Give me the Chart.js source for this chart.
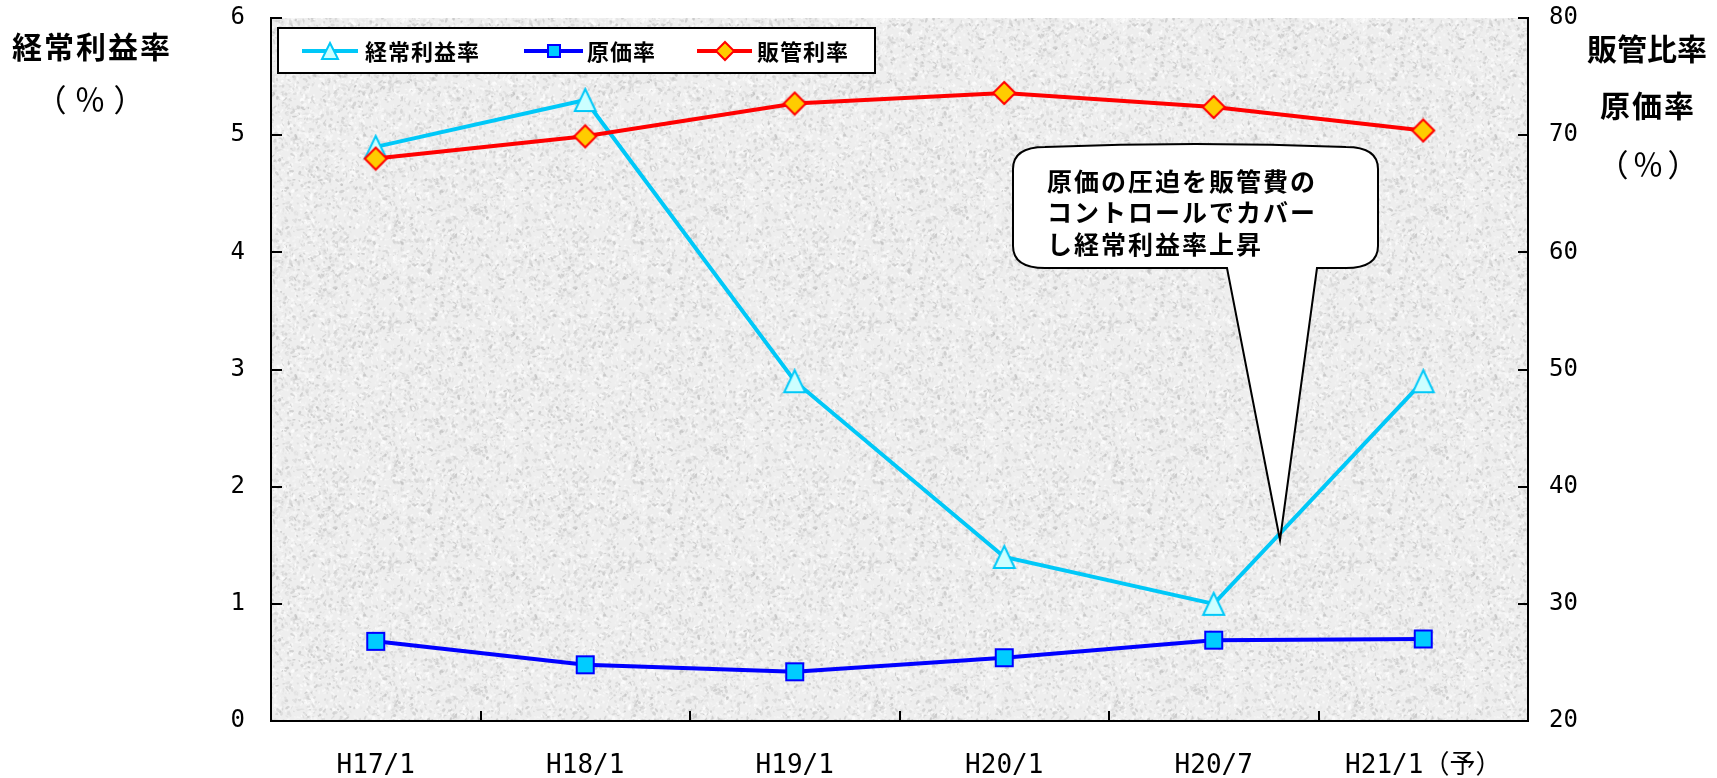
<!DOCTYPE html>
<html>
<head>
<meta charset="utf-8">
<script src="https://cdn.jsdelivr.net/npm/chart.js@4.4.1/dist/chart.umd.min.js"></script>
<style>
  html, body { margin: 0; padding: 0; background: #ffffff; }
  #wrap { width: 1717px; height: 778px; position: relative; }
</style>
</head>
<body>
<div id="wrap"><canvas id="c" width="1717" height="778"></canvas></div>
<script>
// ---- data ----
const categories = ['H17/1', 'H18/1', 'H19/1', 'H20/1', 'H20/7', 'H21/1（予）'];
const keijoRiekiRitsu = [4.9, 5.3, 2.9, 1.4, 1.0, 2.9];      // 経常利益率 (left axis, %)
const genkaRitsu      = [26.8, 24.8, 24.2, 25.4, 26.9, 27.0]; // 原価率 (right axis, %)
const hankanRitsu     = [68.0, 69.9, 72.7, 73.6, 72.4, 70.4]; // 販管利率 (right axis, %)
const seriesNames = ['経常利益率', '原価率', '販管利率'];
const leftAxisRange = [0, 6, 1];
const rightAxisRange = [20, 80, 10];
const leftTitle = ['経常利益率', '（％）'];
const rightTitle = ['販管比率', '原価率', '（％）'];
const calloutLines = ['原価の圧迫を販管費の', 'コントロールでカバー', 'し経常利益率上昇'];

// ---- styling ----
const JP = '"Noto Sans CJK JP", "Noto Sans", sans-serif';
const MONO = '"DejaVu Sans Mono", "Noto Sans CJK JP", monospace';
const CYAN = '#00c8f8', BLUE = '#0000ff', RED = '#ff0000';

function marker(shape, w, h, fill, stroke, lw) {
  const c = document.createElement('canvas');
  c.width = w + 2; c.height = h + 2;
  const g = c.getContext('2d');
  const cx = c.width / 2, cy = c.height / 2, hw = w / 2 - lw / 2, hh = h / 2 - lw / 2;
  g.beginPath();
  if (shape === 'triangle') {
    g.moveTo(cx, cy - hh); g.lineTo(cx + hw, cy + hh); g.lineTo(cx - hw, cy + hh);
  } else if (shape === 'diamond') {
    g.moveTo(cx, cy - hh); g.lineTo(cx + hw, cy); g.lineTo(cx, cy + hh); g.lineTo(cx - hw, cy);
  } else {
    g.rect(cx - hw, cy - hh, hw * 2, hh * 2);
  }
  g.closePath();
  g.fillStyle = fill; g.fill();
  g.lineWidth = lw; g.strokeStyle = stroke; g.lineJoin = 'miter'; g.stroke();
  return c;
}

const mkTri = marker('triangle', 23, 24, '#ccffff', CYAN, 2);
const mkSq = marker('square', 19, 19, '#00ccff', BLUE, 2);
const mkDia = marker('diamond', 24, 24, '#ffcc00', RED, 2);
const lgTri = marker('triangle', 18, 18, '#ccffff', CYAN, 2);
const lgSq = marker('square', 14, 14, '#00ccff', BLUE, 2);
const lgDia = marker('diamond', 20, 20, '#ffcc00', RED, 2);

// granite-like background tile for the plot area
function makeTexture() {
  const N = 240;
  const c = document.createElement('canvas'); c.width = c.height = N;
  const g = c.getContext('2d');
  g.fillStyle = '#eeeeee'; g.fillRect(0, 0, N, N);
  const s = document.createElement('canvas'); s.width = s.height = N;
  const h = s.getContext('2d');
  let seed = 12345;
  const next = () => { seed = (seed * 16807) % 2147483647; return (seed - 1) / 2147483646; };
  for (let k = 0; k < 6000; k++) {
    const x = next() * N, y = next() * N;
    const rx = 0.6 + next() * 2.2, ry = 0.5 + next() * 1.1, ang = next() * Math.PI;
    const dark = next() < 0.55;
    const v = dark ? Math.round(188 + next() * 40) : Math.round(248 + next() * 7);
    h.fillStyle = `rgba(${v},${v},${v},${(0.3 + next() * 0.5).toFixed(2)})`;
    for (let ox = -N; ox <= N; ox += N) for (let oy = -N; oy <= N; oy += N) {
      h.beginPath(); h.ellipse(x + ox, y + oy, rx, ry, ang, 0, Math.PI * 2); h.fill();
    }
  }
  g.filter = 'blur(0.6px)';
  g.drawImage(s, 0, 0);
  g.filter = 'none';
  return c;
}
const textureTile = makeTexture();

function spaced(g, text, x, y, spacing) {
  g.letterSpacing = spacing + 'px';
  g.fillText(text, x, y);
  g.letterSpacing = '0px';
}

// full-width "（％）" drawn glyph by glyph with wide gaps
function percentMark(g, text, cx, cy, gap) {
  g.font = `31px ${JP}`;
  g.textAlign = 'center'; g.textBaseline = 'middle';
  Array.from(text).forEach((ch, i) => g.fillText(ch, cx + (i - 1) * gap, cy));
}

const decorations = {
  id: 'decorations',
  beforeDraw(chart) {
    const g = chart.ctx, a = chart.chartArea;
    g.save();
    g.fillStyle = '#ffffff';
    g.fillRect(0, 0, chart.width, chart.height);
    g.fillStyle = g.createPattern(textureTile, 'repeat');
    g.fillRect(a.left, a.top, a.right - a.left, a.bottom - a.top);
    g.restore();
  },
  beforeDatasetsDraw(chart) {
    const g = chart.ctx, a = chart.chartArea;
    const xs = chart.scales.x, yl = chart.scales.y, yr = chart.scales.y1;
    g.save();
    g.strokeStyle = '#000'; g.lineWidth = 2;
    g.beginPath();
    yl.ticks.forEach((t, i) => { const p = Math.round(yl.getPixelForTick(i)); g.moveTo(a.left, p); g.lineTo(a.left + 11, p); });
    yr.ticks.forEach((t, i) => { const p = Math.round(yr.getPixelForTick(i)); g.moveTo(a.right, p); g.lineTo(a.right - 10, p); });
    for (let i = 0; i < xs.ticks.length - 1; i++) {
      const p = Math.round((xs.getPixelForTick(i) + xs.getPixelForTick(i + 1)) / 2);
      g.moveTo(p, a.bottom); g.lineTo(p, a.bottom - 10);
    }
    g.stroke();
    g.restore();
  },
  afterDraw(chart) {
    const g = chart.ctx;
    g.save();
    // axis titles
    g.fillStyle = '#000'; g.textAlign = 'center'; g.textBaseline = 'middle';
    g.font = `bold 30px ${JP}`;
    spaced(g, leftTitle[0], 92, 47, 2);
    percentMark(g, leftTitle[1], 90, 99, 39);
    g.textAlign = 'center';
    g.font = `bold 30px ${JP}`;
    spaced(g, rightTitle[0], 1647, 49, 0);
    spaced(g, rightTitle[1], 1648, 106, 2);
    percentMark(g, rightTitle[2], 1648, 164, 35);

    // legend
    g.fillStyle = '#fff'; g.strokeStyle = '#000'; g.lineWidth = 2;
    g.fillRect(278, 28, 597, 45); g.strokeRect(278, 28, 597, 45);
    const items = [
      { x0: 302, x1: 358, tx: 365, color: CYAN, mk: lgTri, name: seriesNames[0] },
      { x0: 524, x1: 583, tx: 587, color: BLUE, mk: lgSq, name: seriesNames[1] },
      { x0: 697, x1: 752, tx: 757, color: RED, mk: lgDia, name: seriesNames[2] },
    ];
    const ly = 51;
    g.textAlign = 'left'; g.textBaseline = 'middle'; g.font = `bold 22px ${JP}`;
    items.forEach(it => {
      g.strokeStyle = it.color; g.lineWidth = 4;
      g.beginPath(); g.moveTo(it.x0, ly); g.lineTo(it.x1, ly); g.stroke();
      g.drawImage(it.mk, Math.round((it.x0 + it.x1) / 2 - it.mk.width / 2), Math.round(ly - it.mk.height / 2));
      g.fillStyle = '#000';
      spaced(g, it.name, it.tx, ly + 1, 1);
    });

    // callout bubble
    const L = 1013, R = 1378, T = 147, B = 268, rx = 32, ry = 22;
    const b0 = 1227, b1 = 1317, tipX = 1280, tipY = 540;
    g.beginPath();
    g.moveTo(L + rx, T);
    g.quadraticCurveTo((L + R) / 2, T - 6, R - rx, T);
    g.quadraticCurveTo(R, T, R, T + ry);
    g.lineTo(R, B - ry);
    g.quadraticCurveTo(R, B, R - rx, B);
    g.lineTo(b1, B);
    g.lineTo(tipX, tipY);
    g.lineTo(b0, B);
    g.lineTo(L + rx, B);
    g.quadraticCurveTo(L, B, L, B - ry);
    g.lineTo(L, T + ry);
    g.quadraticCurveTo(L, T, L + rx, T);
    g.closePath();
    g.fillStyle = '#fff'; g.fill();
    g.strokeStyle = '#000'; g.lineWidth = 2; g.lineJoin = 'miter'; g.stroke();
    g.fillStyle = '#000'; g.font = `bold 25px ${JP}`; g.textAlign = 'left'; g.textBaseline = 'middle';
    calloutLines.forEach((s, i) => spaced(g, s, 1047, 181 + i * 31.5, 2));
    g.restore();
  }
};

function noEdgePadding(s) { s.paddingTop = 0; s.paddingBottom = 0; }

const chart = new Chart(document.getElementById('c'), {
  type: 'line',
  data: {
    labels: categories,
    datasets: [
      { label: seriesNames[0], data: keijoRiekiRitsu, yAxisID: 'y', order: 2,
        borderColor: CYAN, borderWidth: 4, pointStyle: mkTri, pointRadius: 12, tension: 0 },
      { label: seriesNames[1], data: genkaRitsu, yAxisID: 'y1', order: 1,
        borderColor: BLUE, borderWidth: 4, pointStyle: mkSq, pointRadius: 10, tension: 0 },
      { label: seriesNames[2], data: hankanRitsu, yAxisID: 'y1', order: 0,
        borderColor: RED, borderWidth: 4, pointStyle: mkDia, pointRadius: 12, tension: 0 },
    ]
  },
  options: {
    responsive: false,
    devicePixelRatio: 1,
    animation: false,
    events: [],
    layout: { padding: { top: 18, left: 0, right: 0, bottom: 0 } },
    plugins: { legend: { display: false }, tooltip: { enabled: false } },
    scales: {
      x: {
        type: 'category', offset: true,
        grid: { display: true, drawOnChartArea: false, drawTicks: false },
        border: { display: true, color: '#000', width: 2 },
        ticks: { color: '#000', font: { family: MONO, size: 26 }, padding: 30, maxRotation: 0, autoSkip: false },
        afterFit(s) { s.height = 57; s.paddingLeft = 0; s.paddingRight = 0; }
      },
      y: {
        position: 'left', min: leftAxisRange[0], max: leftAxisRange[1],
        grid: { drawOnChartArea: false, drawTicks: false },
        border: { display: true, color: '#000', width: 2 },
        ticks: { stepSize: leftAxisRange[2], color: '#000', font: { family: MONO, size: 24 }, padding: 26 },
        afterFit(s) { s.width = 271; noEdgePadding(s); }
      },
      y1: {
        position: 'right', min: rightAxisRange[0], max: rightAxisRange[1],
        grid: { drawOnChartArea: false, drawTicks: false },
        border: { display: true, color: '#000', width: 2 },
        ticks: { stepSize: rightAxisRange[2], color: '#000', font: { family: MONO, size: 24 }, padding: 21 },
        afterFit(s) { s.width = 189; noEdgePadding(s); }
      }
    }
  },
  plugins: [decorations]
});
</script>
</body>
</html>
